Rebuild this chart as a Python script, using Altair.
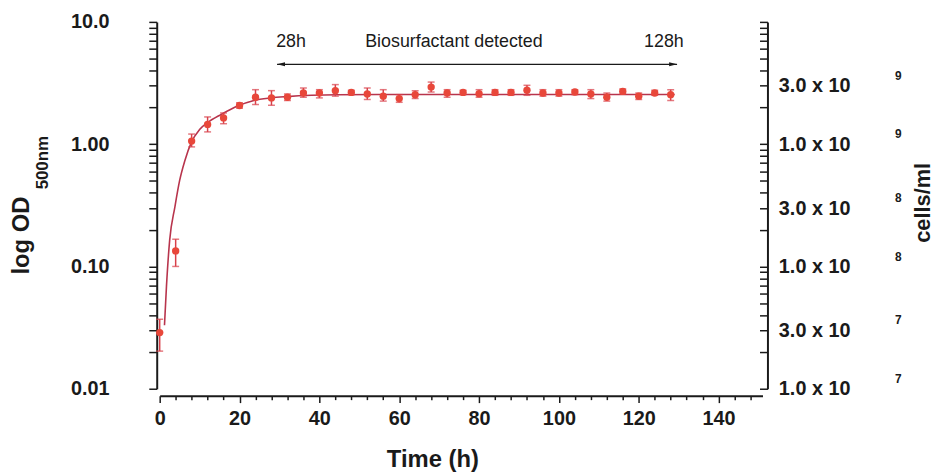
import altair as alt
import pandas as pd

# ---------------- data ----------------
time_h = [0, 4, 8, 12, 16, 20, 24, 28, 32, 36, 40, 44, 48, 52, 56, 60, 64,
          68, 72, 76, 80, 84, 88, 92, 96, 100, 104, 108, 112, 116, 120, 124, 128]
od_mean = [0.0288, 0.134, 1.06, 1.45, 1.64, 2.07, 2.42, 2.39, 2.42, 2.62, 2.62,
           2.74, 2.65, 2.57, 2.47, 2.36, 2.54, 2.93, 2.62, 2.65, 2.59, 2.65,
           2.65, 2.76, 2.62, 2.62, 2.67, 2.57, 2.42, 2.70, 2.47, 2.62, 2.54]
od_low = [0.0203, 0.100, 0.95, 1.26, 1.47, 1.97, 2.11, 2.08, 2.28, 2.42, 2.39,
          2.47, 2.54, 2.32, 2.25, 2.20, 2.36, 2.67, 2.42, 2.54, 2.42, 2.51,
          2.51, 2.51, 2.47, 2.47, 2.54, 2.36, 2.25, 2.57, 2.32, 2.51, 2.28]
od_high = [0.037, 0.167, 1.21, 1.67, 1.80, 2.18, 2.79, 2.74, 2.57, 2.88, 2.79,
           3.07, 2.76, 2.88, 2.79, 2.54, 2.74, 3.22, 2.79, 2.76, 2.79, 2.79,
           2.79, 3.03, 2.79, 2.79, 2.79, 2.79, 2.62, 2.83, 2.62, 2.76, 2.79]

curve_time = [1.2, 1.7, 2.5, 3.8, 5.0, 6.3, 7.9, 10.0, 12.0, 15.4, 19.5, 23.6,
              27.8, 31.9, 38.0, 44.4, 55.0, 70.0, 90.0, 110.0, 129.0]
curve_od = [0.033, 0.069, 0.164, 0.306, 0.505, 0.733, 1.03, 1.32, 1.50, 1.75,
            2.05, 2.28, 2.39, 2.45, 2.51, 2.54, 2.55, 2.55, 2.55, 2.55, 2.55]

x_tick_values = list(range(0, 149, 4))
x_label_values = [0, 20, 40, 60, 80, 100, 120, 140]

od_tick_values = [round(m * 10.0 ** e, 6) for e in (-2, -1, 0) for m in range(1, 10)] + [10.0]
od_label_values = [0.01, 0.1, 1.0, 10.0]
od_label_text = ["0.01", "0.10", "1.00", "10.0"]

cells_tick_values = [m * 10.0 ** e for e in (7, 8, 9) for m in range(1, 10)] + [1e10]
cells_label_values = [1e7, 3e7, 1e8, 3e8, 1e9, 3e9]
cells_label_text = ["1.0 x 10", "3.0 x 10", "1.0 x 10", "3.0 x 10", "1.0 x 10", "3.0 x 10"]
cells_exponents = ["7", "7", "8", "8", "9", "9"]

annotation_text = ["28h", "Biosurfactant detected", "128h"]
annotation_time = [32.9, 73.7, 126.3]
annotation_od = [6.89, 6.89, 6.89]
arrow_from = [29.4]
arrow_to = [129.6]
arrow_od = [4.5]

# ---------------- styling ----------------
FONT = "Liberation Sans"
POINT_COLOR = "#e8473a"
ERR_COLOR = "#d8404a"
CURVE_COLOR = "#b8344c"
INK = "#1a1a1a"


def label_expr(values, texts):
    parts = [f"abs(datum.value/{v!r}-1)<1e-6 ? '{t}'" for v, t in zip(values, texts)]
    return " : ".join(parts) + " : ''"


x_scale = alt.Scale(domain=[0, 151], nice=False, zero=False)
od_scale = alt.Scale(type="log", domain=[0.01, 10], nice=False)
cells_scale = alt.Scale(type="log", domain=[1e7, 1e10], nice=False)

x_axis = alt.Axis(
    values=x_tick_values,
    labelExpr=f"indexof({x_label_values}, datum.value) >= 0 ? datum.label : ''",
    tickSize={"condition": {"test": f"indexof({x_label_values}, datum.value) >= 0", "value": 7}, "value": 4},
    offset=7, grid=False, labelFont=FONT, labelFontSize=20, labelFontWeight="bold",
    labelPadding=6, labelFlush=False, labelOverlap=False,
    title="Time (h)", titleFont=FONT, titleFontSize=24, titleFontWeight="bold",
    titleX=275, titleY=64, titleBaseline="middle", titleAlign="center",
)

od_axis = alt.Axis(
    orient="left", values=od_tick_values,
    labelExpr=label_expr(od_label_values, od_label_text),
    tickSize=8, offset=3, grid=False, labelFont=FONT, labelFontSize=20,
    labelFontWeight="bold", labelPadding=40, labelFlush=False, labelOverlap=False,
    title="log OD", titleFont=FONT, titleFontSize=24, titleFontWeight="bold",
    titleAngle=270, titleX=-136, titleY=215, titleBaseline="middle", titleAlign="center",
)

cells_axis = alt.Axis(
    orient="right", values=cells_tick_values,
    labelExpr=label_expr(cells_label_values, cells_label_text),
    tickSize={"expr": "-8"}, offset=5, grid=False, labelFont=FONT, labelFontSize=20,
    labelFontWeight="bold", labelPadding=19, labelFlush=False, labelOverlap=False,
    labelAlign="left",
    title="cells/ml", titleFont=FONT, titleFontSize=22, titleFontWeight="bold",
    titleAngle=270, titleX=156, titleY=182, titleBaseline="middle", titleAlign="center",
)


def X(field):
    return alt.X(field, type="quantitative", scale=x_scale, axis=x_axis)


def Y(field):
    return alt.Y(field, type="quantitative", scale=od_scale, axis=od_axis)


pts = pd.DataFrame({"time": time_h, "od": od_mean, "low": od_low, "high": od_high})
cur = pd.DataFrame({"time": curve_time, "od": curve_od})
ann = pd.DataFrame({"time": annotation_time, "od": annotation_od, "text": annotation_text})
arr = pd.DataFrame({"t0": arrow_from, "t1": arrow_to, "od": arrow_od})
heads = pd.DataFrame({
    "time": arrow_from + arrow_to,
    "od": arrow_od + arrow_od,
    "shape": ["M0,0L2,-0.5L2,0.5Z", "M0,0L-2,-0.5L-2,0.5Z"],
})
right = pd.DataFrame({"cells": cells_label_values, "exp": cells_exponents})

curve = alt.Chart(cur).mark_line(interpolate="monotone", color=CURVE_COLOR, strokeWidth=1.6).encode(
    x=X("time"), y=Y("od"))

err = alt.Chart(pts).mark_rule(color=ERR_COLOR, strokeWidth=1.5).encode(
    x=X("time"), y=Y("low"), y2="high")
cap_lo = alt.Chart(pts).mark_tick(orient="horizontal", size=7, thickness=1.5, color=ERR_COLOR).encode(
    x=X("time"), y=Y("low"))
cap_hi = alt.Chart(pts).mark_tick(orient="horizontal", size=7, thickness=1.5, color=ERR_COLOR).encode(
    x=X("time"), y=Y("high"))
points = alt.Chart(pts).mark_point(filled=True, shape="circle", size=55, color=POINT_COLOR, opacity=1).encode(
    x=X("time"), y=Y("od"))

arrow = alt.Chart(arr).mark_rule(color=INK, strokeWidth=1.2).encode(
    x=X("t0"), x2="t1", y=Y("od"))
arrow_heads = alt.Chart(heads).mark_point(filled=True, color=INK, size=64, opacity=1).encode(
    x=X("time"), y=Y("od"), shape=alt.Shape("shape:N", scale=None))
labels = alt.Chart(ann).mark_text(font=FONT, fontSize=18, color=INK, baseline="middle").encode(
    x=X("time"), y=Y("od"), text="text:N")

subscript = alt.Chart(ann.head(1)).mark_text(
    font=FONT, fontSize=17, fontWeight="bold", color=INK, angle=270, baseline="middle"
).encode(x=alt.value(-118), y=alt.value(142), text=alt.value("500nm"))

left_layer = alt.layer(curve, err, cap_lo, cap_hi, points, arrow, arrow_heads, labels, subscript)

exps = alt.Chart(right).mark_text(font=FONT, fontSize=12, fontWeight="bold", color=INK, dy=-10).encode(
    x=alt.value(745), y=alt.Y("cells:Q", scale=cells_scale, axis=cells_axis), text="exp:N")

chart = (
    alt.layer(left_layer, exps)
    .resolve_scale(y="independent")
    .properties(
        width=608, height=370,
        autosize=alt.AutoSizeParams(type="none"),
        padding={"left": 153, "top": 12, "right": 175, "bottom": 85},
    )
    .configure_view(stroke=None)
    .configure_axis(domainColor=INK, domainWidth=2, tickColor=INK, tickWidth=1.5,
                    labelColor=INK, titleColor=INK)
)

chart.save("out.html", embed_options={"renderer": "svg", "actions": False})
